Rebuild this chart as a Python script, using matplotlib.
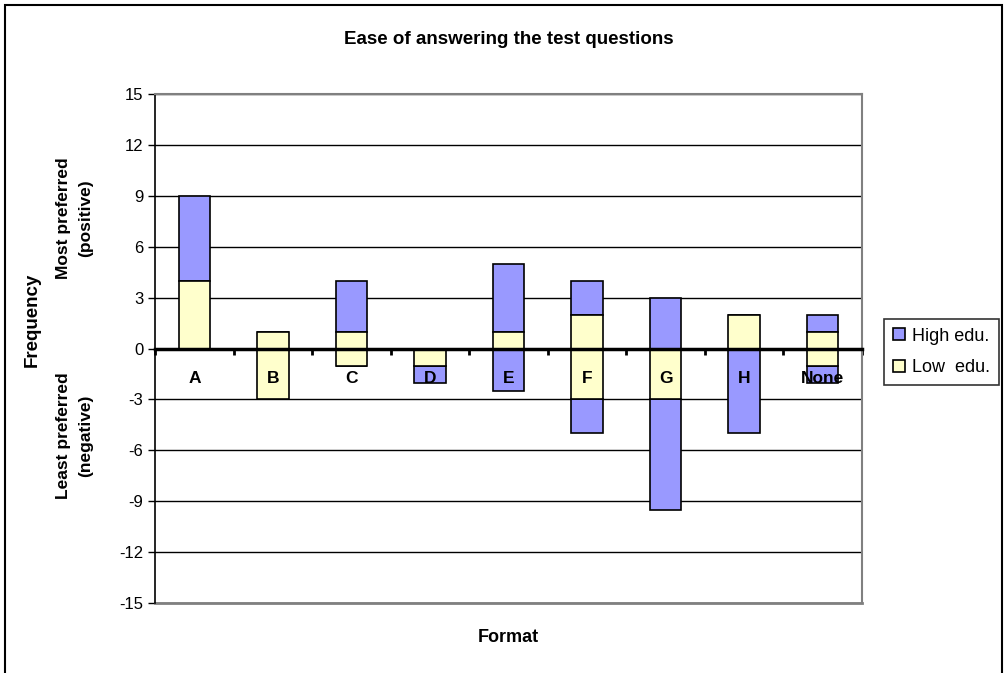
import matplotlib
matplotlib.use("Agg")
import matplotlib.pyplot as plt
from matplotlib.patches import Rectangle
import numpy as np

plt.rcParams['font.family'] = ['Liberation Sans', 'DejaVu Sans']

categories = ["A", "B", "C", "D", "E", "F", "G", "H", "None"]
low_pos = [4, 1, 1, 0, 1, 2, 0, 2, 1]
high_pos = [5, 0, 3, 0, 4, 2, 3, 0, 1]
low_neg = [0, -3, -1, -1, 0, -3, -3, 0, -1]
high_neg = [0, 0, 0, -1, -2.5, -2, -6.5, -5, -1]
yticks = [-15, -12, -9, -6, -3, 0, 3, 6, 9, 12, 15]

high_color = "#9999FF"
low_color = "#FFFFCC"

fig = plt.figure(figsize=(10.07, 6.73), dpi=100)
ax = fig.add_axes([0.154, 0.104, 0.702, 0.756])

x = np.arange(len(categories))
w = 0.4
kw = dict(width=w, edgecolor="black", linewidth=1.2, zorder=3)
ax.bar(x, high_pos, bottom=low_pos, color=high_color, label="High edu.", **kw)
ax.bar(x, low_pos, color=low_color, label="Low  edu.", **kw)
ax.bar(x, high_neg, bottom=low_neg, color=high_color, **kw)
ax.bar(x, low_neg, color=low_color, **kw)

ax.set_xlim(-0.5, len(categories) - 0.5)
ax.set_ylim(yticks[0], yticks[-1])
ax.set_yticks(yticks)
ax.set_yticklabels([str(v) for v in yticks], fontsize=12)
ax.yaxis.grid(True, color="black", linewidth=1.0, zorder=0)
ax.set_axisbelow(True)
# gray bottom frame of the plot area
ax.axhline(yticks[0], color="#808080", linewidth=2.0, zorder=1, clip_on=False)

ax.spines['bottom'].set_position(('data', 0))
ax.spines['bottom'].set_linewidth(2.5)
ax.spines['bottom'].set_zorder(5)
ax.spines['top'].set_color("#808080")
ax.spines['right'].set_color("#808080")
ax.spines['top'].set_linewidth(1.5)
ax.spines['right'].set_linewidth(1.5)
ax.spines['left'].set_linewidth(1.2)

ax.set_xticks(x)
ax.set_xticklabels([])
ax.tick_params(axis='x', which='major', length=0)
ax.set_xticks(np.arange(len(categories) + 1) - 0.5, minor=True)
ax.tick_params(axis='x', which='minor', length=4, width=2, direction='out')
ax.tick_params(axis='y', length=5, width=1, direction='out')

# category labels drawn above the bars, just below the zero line
for xi, name in zip(x, categories):
    ax.annotate(name, xy=(xi, 0), xycoords="data", xytext=(0, -21.5),
                textcoords="offset points", ha="center", va="center",
                fontsize=12.5, fontweight="bold", zorder=6)

fig.text(0.505, 0.942, "Ease of answering the test questions", ha="center", va="center",
         fontsize=13.5, fontweight="bold")
fig.text(0.505, 0.053, "Format", ha="center", va="center", fontsize=13, fontweight="bold")
fig.text(0.032, 0.524, "Frequency", rotation=90, ha="center", va="center",
         fontsize=13.5, fontweight="bold")
fig.text(0.074, 0.676, "Most preferred\n(positive)", rotation=90, ha="center", va="center",
         fontsize=12.5, fontweight="bold", multialignment="center", linespacing=1.55)
fig.text(0.074, 0.352, "Least preferred\n(negative)", rotation=90, ha="center", va="center",
         fontsize=12.5, fontweight="bold", multialignment="center", linespacing=1.55)

leg = fig.legend(loc="center left", bbox_to_anchor=(0.878, 0.477), fontsize=13,
                 frameon=True, fancybox=False, edgecolor="black", handlelength=0.65,
                 handleheight=0.65, handletextpad=0.4, borderpad=0.5, labelspacing=0.8,
                 borderaxespad=0)
leg.get_frame().set_linewidth(1.2)

fig.patches.append(Rectangle((0.005, -0.02), 0.99, 1.013, transform=fig.transFigure,
                             fill=False, edgecolor="black", linewidth=1.5))

fig.savefig("out.png", dpi=100)
